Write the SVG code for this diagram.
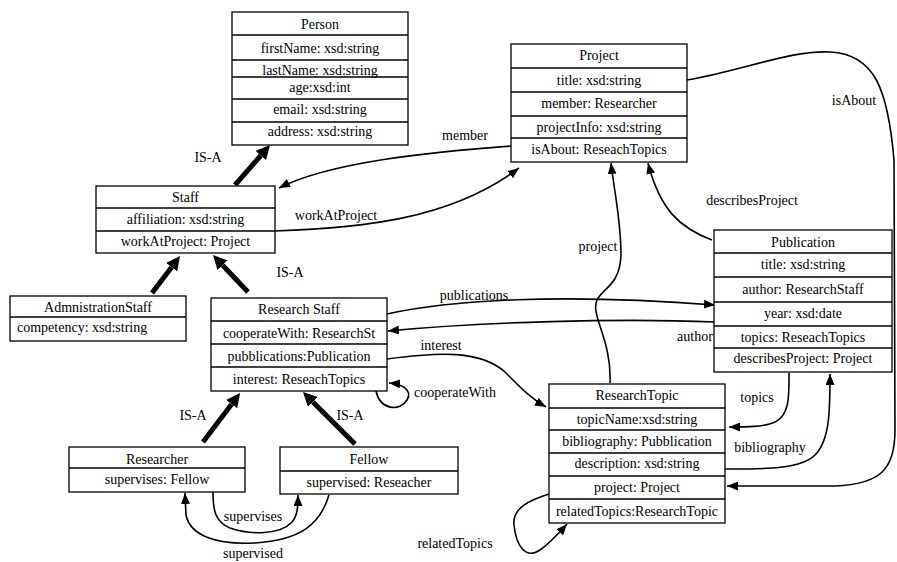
<svg xmlns="http://www.w3.org/2000/svg" width="897" height="562" viewBox="0 0 897 562">
<style>
text{font-family:"Liberation Serif","Times New Roman",serif;font-size:14px;fill:#000;text-anchor:middle}
.box{fill:#fff;stroke:#000;stroke-width:1.3}
.sep{stroke:#000;stroke-width:1.3}
.edge{fill:none;stroke:#000;stroke-width:1.6;marker-end:url(#arr)}
.isa{fill:none;stroke:#000;stroke-width:5;marker-end:url(#isa)}
</style>
<defs>
<marker id="arr" viewBox="0 -4.5 11 9" refX="11" refY="0" markerWidth="11" markerHeight="9" markerUnits="userSpaceOnUse" orient="auto"><path d="M0,-4.5 L11,0 L0,4.5 z" fill="#000"/></marker>
<marker id="isa" viewBox="0 -7 14 14" refX="0" refY="0" markerWidth="14" markerHeight="14" markerUnits="userSpaceOnUse" orient="auto"><path d="M0,-7 L14,0 L0,7 z" fill="#000"/></marker>
</defs>

<g id="connectors">
<path class="isa" d="M235,185 L260.8,155.5"/>
<path class="isa" d="M152,293 L171.6,267.2"/>
<path class="isa" d="M248,292 L222.6,265.2"/>
<path class="isa" d="M203,442 L231.6,404.2"/>
<path class="isa" d="M355,444 L312.9,401.9"/>
<path class="edge" d="M511,146 C430,152 330,162 279,188"/>
<path class="edge" d="M275,231 C360,228 450,220 519,168"/>
<path class="edge" d="M687,80 C745,70 790,50 830,52 C875,54 888,90 894,160 L895,430 C895,470 880,484 835,486 L727,486"/>
<path class="edge" d="M712,240 C680,228 660,210 648,163"/>
<path class="edge" d="M610,383 C612,340 590,315 597,300 C603,288 620,285 621,255 C621,220 614,190 611,163"/>
<path class="edge" d="M387,314 C450,300 560,293 715,305"/>
<path class="edge" d="M715,322 C620,318 480,322 388,331"/>
<path class="edge" d="M387,359 C440,352 480,350 505,372 C520,387 530,398 546,407"/>
<path class="edge" d="M376,391 C380,410 400,412 407,400 C413,390 402,384 389,383"/>
<path class="edge" d="M549,494 C530,500 512,508 514,525 C516,545 525,560 540,550 C550,543 560,532 567,524"/>
<path class="edge" d="M789,373 C789,395 790,415 775,422 C765,427 745,427 729,427"/>
<path class="edge" d="M725,469 C760,469 800,470 815,455 C830,440 830,410 830,374"/>
<path class="edge" d="M213,492 C213,510 215,522 230,528 C250,535 280,535 292,522 C298,515 298,505 298,495"/>
<path class="edge" d="M329,495 C320,525 300,540 255,543 C215,545 190,535 186,515 L185,493"/>
<text x="208" y="162">IS-A</text>
<text x="290" y="277">IS-A</text>
<text x="193" y="420">IS-A</text>
<text x="350" y="420">IS-A</text>
<text x="465" y="140">member</text>
<text x="336" y="220">workAtProject</text>
<text x="854" y="105">isAbout</text>
<text x="752" y="205">describesProject</text>
<text x="598" y="251">project</text>
<text x="474" y="300">publications</text>
<text x="695" y="341">author</text>
<text x="441" y="350">interest</text>
<text x="455" y="397">cooperateWith</text>
<text x="455" y="548">relatedTopics</text>
<text x="757" y="402">topics</text>
<text x="770" y="452">bibliography</text>
<text x="253" y="521">supervises</text>
<text x="253" y="558">supervised</text>
</g>

<g id="person">
<rect class="box" x="232" y="12" width="176" height="133"/>
<line class="sep" x1="232" y1="35" x2="408" y2="35"/>
<line class="sep" x1="232" y1="60" x2="408" y2="60"/>
<line class="sep" x1="232" y1="77" x2="408" y2="77"/>
<line class="sep" x1="232" y1="99" x2="408" y2="99"/>
<line class="sep" x1="232" y1="122" x2="408" y2="122"/>
<text x="320" y="29">Person</text>
<text x="320" y="53">firstName: xsd:string</text>
<text x="320" y="75">lastName: xsd:string</text>
<text x="320" y="92">age:xsd:int</text>
<text x="320" y="114">email: xsd:string</text>
<text x="320" y="136">address: xsd:string</text>
</g>

<g id="project">
<rect class="box" x="511" y="44" width="176" height="118"/>
<line class="sep" x1="511" y1="68" x2="687" y2="68"/>
<line class="sep" x1="511" y1="92" x2="687" y2="92"/>
<line class="sep" x1="511" y1="116" x2="687" y2="116"/>
<line class="sep" x1="511" y1="138" x2="687" y2="138"/>
<text x="599" y="60">Project</text>
<text x="599" y="85">title: xsd:string</text>
<text x="599" y="108">member: Researcher</text>
<text x="599" y="132">projectInfo: xsd:string</text>
<text x="599" y="154">isAbout: ReseachTopics</text>
</g>

<g id="staff">
<rect class="box" x="96" y="186" width="179" height="67"/>
<line class="sep" x1="96" y1="208" x2="275" y2="208"/>
<line class="sep" x1="96" y1="231" x2="275" y2="231"/>
<text x="185.5" y="202">Staff</text>
<text x="185.5" y="224">affiliation: xsd:string</text>
<text x="185.5" y="246">workAtProject: Project</text>
</g>

<g id="administrationStaff">
<rect class="box" x="10" y="296" width="176" height="45"/>
<line class="sep" x1="10" y1="317" x2="186" y2="317"/>
<text x="98" y="312">AdmnistrationStaff</text>
<text x="17" y="332" style="text-anchor:start">competency: xsd:string</text>
</g>

<g id="researchStaff">
<rect class="box" x="211" y="298" width="176" height="93"/>
<line class="sep" x1="211" y1="321" x2="387" y2="321"/>
<line class="sep" x1="211" y1="344" x2="387" y2="344"/>
<line class="sep" x1="211" y1="367" x2="387" y2="367"/>
<text x="299" y="314">Research Staff</text>
<text x="299" y="338">cooperateWith: ResearchSt</text>
<text x="299" y="361">pubblications:Publication</text>
<text x="299" y="384">interest: ReseachTopics</text>
</g>

<g id="publication">
<rect class="box" x="714" y="230" width="178" height="142"/>
<line class="sep" x1="714" y1="253" x2="892" y2="253"/>
<line class="sep" x1="714" y1="277" x2="892" y2="277"/>
<line class="sep" x1="714" y1="302" x2="892" y2="302"/>
<line class="sep" x1="714" y1="326" x2="892" y2="326"/>
<line class="sep" x1="714" y1="348" x2="892" y2="348"/>
<text x="803" y="247">Publication</text>
<text x="803" y="269">title: xsd:string</text>
<text x="803" y="294">author: ResearchStaff</text>
<text x="803" y="318">year: xsd:date</text>
<text x="803" y="342">topics: ReseachTopics</text>
<text x="803" y="363">describesProject: Project</text>
</g>

<g id="researchTopic">
<rect class="box" x="549" y="384" width="176" height="139"/>
<line class="sep" x1="549" y1="408" x2="725" y2="408"/>
<line class="sep" x1="549" y1="430" x2="725" y2="430"/>
<line class="sep" x1="549" y1="453" x2="725" y2="453"/>
<line class="sep" x1="549" y1="476" x2="725" y2="476"/>
<line class="sep" x1="549" y1="499" x2="725" y2="499"/>
<text x="637" y="400">ResearchTopic</text>
<text x="637" y="424">topicName:xsd:string</text>
<text x="637" y="446">bibliography: Pubblication</text>
<text x="637" y="468">description: xsd:string</text>
<text x="637" y="492">project: Project</text>
<text x="637" y="516">relatedTopics:ResearchTopic</text>
</g>

<g id="researcher">
<rect class="box" x="69" y="447" width="176" height="45"/>
<line class="sep" x1="69" y1="468" x2="245" y2="468"/>
<text x="157" y="464">Researcher</text>
<text x="157" y="484">supervises: Fellow</text>
</g>

<g id="fellow">
<rect class="box" x="280" y="447" width="178" height="47"/>
<line class="sep" x1="280" y1="471" x2="458" y2="471"/>
<text x="369" y="464">Fellow</text>
<text x="369" y="487">supervised: Reseacher</text>
</g>
</svg>
